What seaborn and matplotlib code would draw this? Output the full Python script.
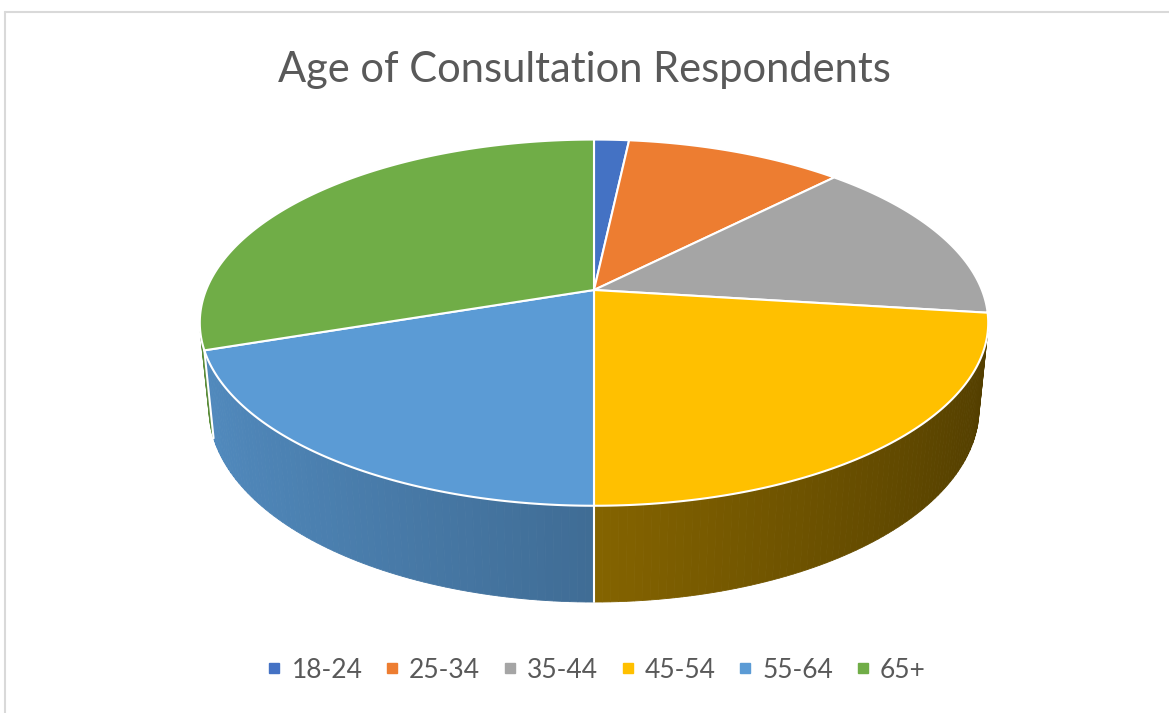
import matplotlib
matplotlib.use('Agg')
import matplotlib.pyplot as plt
from matplotlib.lines import Line2D
import seaborn as sns
import numpy as np

# data
age_groups = ['18-24', '25-34', '35-44', '45-54', '55-64', '65+']
share = [1.7, 10.6, 14.7, 23.0, 19.8, 30.2]
colours = ['#4472C4', '#ED7D31', '#A5A5A5', '#FFC000', '#5B9BD5', '#70AD47']
side_level = [0.62, 0.62, 0.62, 0.52, 0.70, 0.62]   # how dark each side wall is

sns.set_theme(style='white')
plt.rcParams['font.family'] = ['Lato', 'DejaVu Sans']

W, Hpx = 1169, 713
fig = plt.figure(figsize=(W / 100, Hpx / 100), dpi=100)
ax = fig.add_axes([0, 0, 1, 1])
ax.set_xlim(0, W)
ax.set_ylim(Hpx, 0)
ax.axis('off')

# perspective camera for the 3d pie
CX, CY = 594, 290
D, H, F = 4.437, 2.28, 1935
T = 0.25
L = np.hypot(D, H)


def project(theta_deg, z):
    th = np.radians(theta_deg)
    u, v = np.sin(th), np.cos(th)
    depth = ((v + D) * D - (z - H) * H) / L
    X = F * u / depth
    Y = F * ((v + D) * H + (z - H) * D) / L / depth
    return CX + X, CY - Y


# slice angles, clockwise from 12 o'clock
edges = np.concatenate([[0], np.cumsum(share)]) / np.sum(share) * 360
vis_lo = np.degrees(np.arccos(-1 / D))
vis_hi = 360 - vis_lo


def shade(c, f):
    rgb = np.array(matplotlib.colors.to_rgb(c))
    return tuple(np.clip(rgb * f, 0, 1))


# side walls, far strips first
strips = []
for i in range(len(share)):
    a0, a1 = max(edges[i], vis_lo), min(edges[i + 1], vis_hi)
    if a1 <= a0:
        continue
    n = max(int((a1 - a0) / 1.0), 1)
    ts = np.linspace(a0, a1, n + 1)
    for k in range(n):
        strips.append((ts[k], ts[k + 1], i))
strips.sort(key=lambda s: -np.cos(np.radians((s[0] + s[1]) / 2)))
for t0, t1, i in strips:
    tt = np.linspace(t0, t1, 4)
    xt, yt = project(tt, 0)
    xb, yb = project(tt[::-1], -T)
    mid = np.radians((t0 + t1) / 2)
    f = side_level[i] - 0.2 * np.sin(mid)
    col = shade(colours[i], f)
    ax.fill(np.concatenate([xt, xb]), np.concatenate([yt, yb]),
            facecolor=col, edgecolor=col, lw=0.6)

# white seams on the side at slice boundaries
for e in edges[1:-1]:
    if vis_lo < e < vis_hi:
        x0, y0 = project(e, 0)
        x1, y1 = project(e, -T)
        ax.plot([x0, x1], [y0, y1], color='white', lw=1.5)

# top face
for i in range(len(share)):
    tt = np.linspace(edges[i], edges[i + 1], 120)
    xa, ya = project(tt, 0)
    ax.fill(np.concatenate([[CX], xa]), np.concatenate([[CY], ya]),
            facecolor=colours[i], edgecolor='white', lw=1.5,
            joinstyle='round')

fig.text(0.5, 1 - 70 / Hpx, 'Age of Consultation Respondents',
         ha='center', va='center', fontsize=30, color='#595959')

handles = [Line2D([], [], marker='s', ls='', markersize=7,
                  markerfacecolor=c, markeredgecolor=c) for c in colours]
fig.legend(handles, age_groups, loc='center', ncol=6,
           bbox_to_anchor=(0.51, 1 - 670 / Hpx), frameon=False,
           fontsize=19, labelcolor='#595959', handlelength=0.6,
           handletextpad=0.35, columnspacing=0.82)

# chart border
fig.add_artist(Line2D([5 / W, 1], [1 - 12 / Hpx] * 2, color='#d9d9d9', lw=1.5))
fig.add_artist(Line2D([5 / W] * 2, [0, 1 - 12 / Hpx], color='#d9d9d9', lw=1.5))

fig.savefig('out.png', dpi=100, facecolor='white')
